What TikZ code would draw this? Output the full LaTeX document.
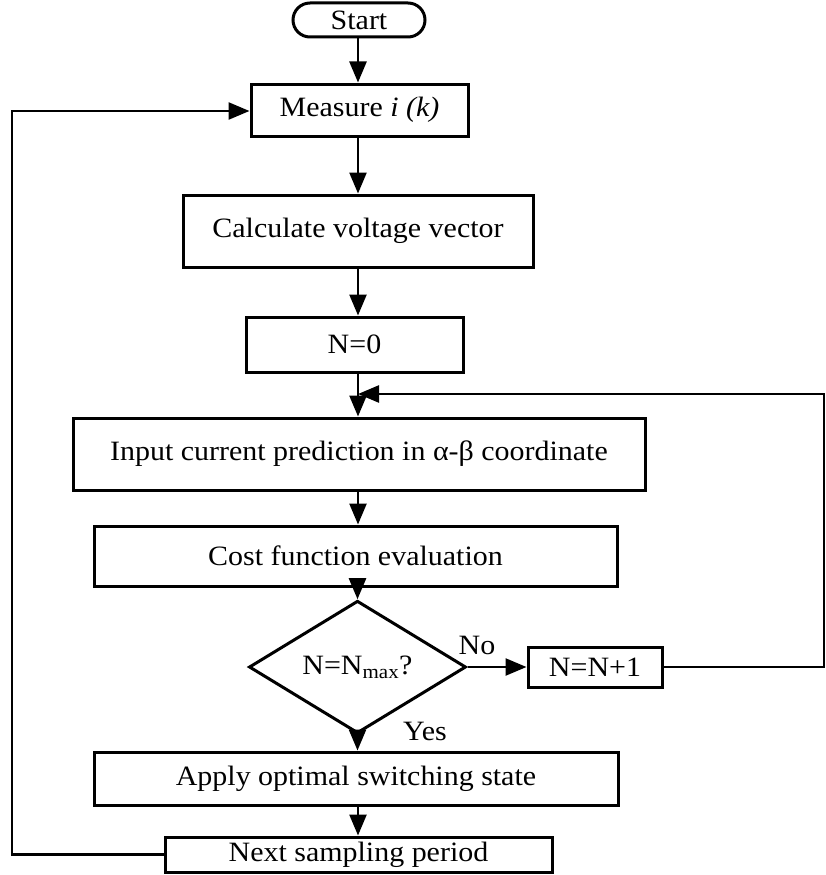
\documentclass[tikz,border=0pt]{standalone}
\usepackage{fontspec}
\setmainfont{Liberation Serif}[FakeStretch=1.07]
\usetikzlibrary{arrows.meta,shapes.geometric}
\begin{document}
\begin{tikzpicture}[x=1pt,y=-1pt,
  txt/.style={font=\fontsize{28}{31}\selectfont},
  box/.style={draw, line width=3pt, rectangle, inner sep=0pt, align=center, txt},
  lbl/.style={inner sep=0pt, txt},
  conn/.style={line width=2.5pt, -{Triangle[length=21pt,width=17pt]}},
  wire/.style={line width=2.5pt}]
\useasboundingbox (0,0) rectangle (825,875);

% process steps
\node[box, rounded corners=17pt, minimum width=132pt, minimum height=34pt] (start) at (359,20) {Start};
\node[box, minimum width=217pt, minimum height=52pt] (meas) at (359.5,110) {Measure \textit{i (k)}};
\node[box, minimum width=350pt, minimum height=72pt] (calc) at (358,231) {Calculate voltage vector};
\node[box, minimum width=217pt, minimum height=55pt] (nzero) at (354.5,344.5) {N=0};
\node[box, minimum width=572pt, minimum height=72pt] (pred) at (359,454) {Input current prediction in α-β coordinate};
\node[box, minimum width=523pt, minimum height=60pt] (cost) at (355.5,556) {Cost function evaluation};
\node[draw, diamond, line width=3pt, inner sep=0pt, minimum width=217pt, minimum height=108pt,
  txt] (dec) at (357.5,667) {N=N\textsubscript{max}?};
\node[box, minimum width=134pt, minimum height=40pt] (inc) at (595,667) {N=N+1};
\node[box, minimum width=524pt, minimum height=53pt] (apply) at (356,778.5) {Apply optimal switching state};
\node[box, minimum width=387pt, minimum height=35pt] (next) at (358.5,854.5) {Next sampling period};

% branch labels
\node[lbl] (nolbl) at (477,645) {No};
\node[lbl] (yeslbl) at (425,731) {Yes};

% connector guide points
\coordinate (ax) at (358,0);
\coordinate (lb) at (12,854.5);
\coordinate (lt) at (12,111);
\coordinate (rb) at (824,667);
\coordinate (rt) at (824,394);
\coordinate (join) at (358,394);

% main flow
\draw[conn] (start.south -| ax) -- (meas.north -| ax);
\draw[conn] (meas.south -| ax) -- (calc.north -| ax);
\draw[conn] (calc.south -| ax) -- (nzero.north -| ax);
\draw[conn] (nzero.south -| ax) -- (pred.north -| ax);
\draw[conn] (pred.south -| ax) -- (cost.north -| ax);
\draw[conn] (cost.south -| dec.north) -- (dec.north);
\draw[conn] (dec.south) -- (apply.north -| dec.south);
\draw[conn] (apply.south -| ax) -- (next.north -| ax);
\draw[conn] (dec.east) -- (inc.west |- dec.east);

% feedback loops
\draw[wire] (inc.east) -- (rb) -- (rt) -- ++(-1,0);
\draw[conn] (rt) -- (join);
\draw[wire] (next.west) -- (lb) -- (lt) -- ++(1,0);
\draw[conn] (lt) -- (meas.west |- lt);
\end{tikzpicture}
\end{document}
